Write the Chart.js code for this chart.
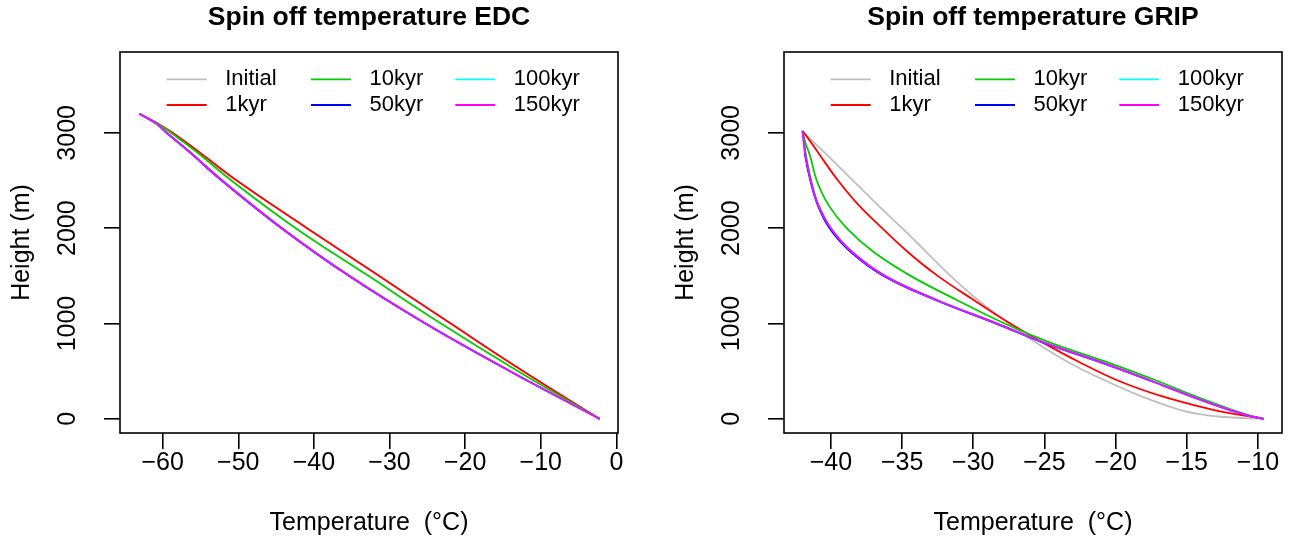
<!DOCTYPE html>
<html>
<head>
<meta charset="utf-8">
<script src="https://cdn.jsdelivr.net/npm/chart.js@4.4.0/dist/chart.umd.min.js"></script>
<style>
html, body { margin: 0; padding: 0; background: #fff; }
#wrap { position: relative; width: 1305px; height: 547px; }
.panel { position: absolute; top: 0; height: 547px; }
</style>
</head>
<body>
<div id="wrap">
  <div class="panel" style="left:0;width:652px"><canvas id="edc" width="652" height="547"></canvas></div>
  <div class="panel" style="left:664px;width:641px"><canvas id="grip" width="641" height="547"></canvas></div>
</div>
<script>
// series labels and colours (R: grey, red, green3, blue, cyan, magenta)
var seriesNames = ['Initial', '1kyr', '10kyr', '50kyr', '100kyr', '150kyr'];
var seriesColors = ['#BEBEBE', '#FF0000', '#00CD00', '#0000FF', '#00FFFF', '#FF00FF'];

// EDC: height (m) and temperature (degC)
var edcHeight  = [3200, 3100, 3000, 2800, 2500, 2000, 1500, 1000, 500, 0];
var edcInitial = [-63.1, -60.9, -58.7, -55.2, -50.2, -40.9, -31.4, -21.9, -12.3, -2.2];
var edc1kyr    = [-63.1, -60.7, -58.7, -55.2, -50.2, -40.9, -31.4, -21.9, -12.3, -2.2];
var edc10kyr   = [-63.1, -60.7, -58.9, -55.5, -50.9, -42.4, -32.8, -23.2, -13.0, -2.2];
var edc50kyr   = [-63.1, -60.9, -59.5, -56.5, -52.2, -44.3, -35.4, -25.3, -14.1, -2.2];
var edc100kyr  = [-63.1, -60.9, -59.4, -56.4, -52.1, -44.2, -35.3, -25.2, -14.0, -2.2];
var edc150kyr  = [-63.1, -60.9, -59.4, -56.4, -52.1, -44.2, -35.3, -25.2, -14.0, -2.2];

// GRIP: height (m) and temperature (degC)
var gripHeight  = [3020, 2900, 2750, 2500, 2250, 2000, 1750, 1500, 1250, 1000, 800, 600, 400, 250, 100, 50, 20, 0];
var gripInitial = [-42.0, -41.2, -40.15, -38.45, -36.75, -35.0, -33.3, -31.6, -29.7, -27.5, -25.6, -23.4, -20.7, -18.4, -15.6, -14.1, -12.4, -9.6];
var grip1kyr    = [-42.0, -41.4, -40.7, -39.5, -38.1, -36.4, -34.6, -32.5, -30.0, -27.4, -25.1, -22.6, -19.8, -17.0, -13.3, -11.6, -10.4, -9.6];
var grip10kyr   = [-42.0, -41.8, -41.45, -41.0, -40.2, -38.9, -37.0, -34.4, -31.2, -27.8, -24.6, -20.7, -17.1, -14.6, -11.9, -10.9, -10.2, -9.6];
var grip50kyr   = [-42.0, -41.9, -41.8, -41.45, -40.95, -40.1, -38.6, -36.3, -32.7, -28.4, -25.1, -21.2, -17.55, -14.95, -12.15, -11.05, -10.3, -9.6];
var grip100kyr  = [-42.0, -41.9, -41.75, -41.4, -40.9, -40.0, -38.5, -36.2, -32.6, -28.3, -25.0, -21.1, -17.5, -14.9, -12.1, -11.0, -10.3, -9.6];
var grip150kyr  = [-42.0, -41.9, -41.75, -41.4, -40.9, -40.0, -38.5, -36.2, -32.6, -28.3, -25.0, -21.1, -17.5, -14.9, -12.1, -11.0, -10.3, -9.6];

// tick labels
var edcTempTicks  = [-60, -50, -40, -30, -20, -10, 0];
var gripTempTicks = [-40, -35, -30, -25, -20, -15, -10];
var heightTicks   = [0, 1000, 2000, 3000];

Chart.defaults.font.family = '"Liberation Sans", Arial, Helvetica, sans-serif';
Chart.defaults.color = '#000';

function makeSeries(heights, temps, i) {
    var pts = [];
    for (var k = 0; k < heights.length; k++) {
        pts.push({x: temps[k], y: heights[k]});
    }
    return {
        label: seriesNames[i],
        data: pts,
        borderColor: seriesColors[i],
        backgroundColor: seriesColors[i],
        borderWidth: 1.8,
        pointRadius: 0,
        showLine: true,
        fill: false,
        tension: 0.4,
        order: 6 - i   // last series drawn on top, like R
    };
}

function minusLabel(v) {
    return v < 0 ? '\u2212' + Math.abs(v) : String(v);
}

// box around the plot region
var frame = {
    id: 'frame',
    afterDraw: function(chart) {
        var a = chart.chartArea, ctx = chart.ctx;
        ctx.save();
        ctx.strokeStyle = '#000';
        ctx.lineWidth = 1.6;
        ctx.strokeRect(a.left, a.top, a.right - a.left, a.bottom - a.top);
        ctx.restore();
    }
};

// R style legend: 3 columns, 2 rows, no box
var rLegend = {
    id: 'rLegend',
    afterDraw: function(chart) {
        var a = chart.chartArea, ctx = chart.ctx;
        var ds = chart.data.datasets;
        ctx.save();
        ctx.font = '22px "Liberation Sans", Arial, sans-serif';
        ctx.textBaseline = 'middle';
        ctx.textAlign = 'left';
        for (var i = 0; i < ds.length; i++) {
            var col = Math.floor(i / 2), row = i % 2;
            var x0 = a.left + 46.7 + col * 144.3;
            var y0 = a.top + 27.3 + row * 25.7;
            ctx.strokeStyle = ds[i].borderColor;
            ctx.lineWidth = 1.8;
            ctx.beginPath();
            ctx.moveTo(x0, y0);
            ctx.lineTo(x0 + 40, y0);
            ctx.stroke();
            ctx.fillStyle = '#000';
            ctx.fillText(ds[i].label, x0 + 58.5, y0);
        }
        ctx.restore();
    }
};

function criaGrafico(id, titulo, heights, series, tempTicks, xmin, xmax, padRight) {
    var datasets = [];
    for (var i = 0; i < series.length; i++) {
        datasets.push(makeSeries(heights, series[i], i));
    }
    return new Chart(id, {
        type: 'scatter',
        data: { datasets: datasets },
        options: {
            responsive: false,
            animation: false,
            layout: { padding: { left: 0, right: padRight, top: 0, bottom: 0 } },
            plugins: {
                legend: { display: false },
                tooltip: { enabled: false },
                title: {
                    display: true,
                    text: titulo,
                    fullSize: false,
                    font: { size: 26.5, weight: 'bold' },
                    padding: { top: 2, bottom: 18.2 }
                }
            },
            scales: {
                x: {
                    type: 'linear',
                    position: 'bottom',
                    min: xmin,
                    max: xmax,
                    afterBuildTicks: function(s) {
                        s.ticks = tempTicks.map(function(v) { return {value: v}; });
                    },
                    afterFit: function(s) { s.height = 114; },
                    border: { display: false },
                    grid: { display: true, drawOnChartArea: false, drawTicks: true, tickLength: 16, color: '#000', lineWidth: 1.6 },
                    ticks: {
                        autoSkip: false,
                        maxRotation: 0,
                        padding: -1,
                        font: { size: 25 },
                        callback: function(v) { return minusLabel(v); }
                    },
                    title: {
                        display: true,
                        text: 'Temperature  (\u00B0C)',
                        font: { size: 25 },
                        padding: { top: 0, bottom: 9 }
                    }
                },
                y: {
                    type: 'linear',
                    position: 'left',
                    min: -148,
                    max: 3848,
                    afterBuildTicks: function(s) {
                        s.ticks = heightTicks.map(function(v) { return {value: v}; });
                    },
                    afterFit: function(s) { s.width = 120; },
                    border: { display: false },
                    grid: { display: true, drawOnChartArea: false, drawTicks: true, tickLength: 16, color: '#000', lineWidth: 1.6 },
                    ticks: {
                        autoSkip: false,
                        minRotation: 90,
                        maxRotation: 90,
                        crossAlign: 'center',
                        padding: 8,
                        font: { size: 25 },
                        callback: function(v) { return String(v); }
                    },
                    title: {
                        display: true,
                        text: 'Height (m)',
                        font: { size: 25 },
                        padding: { top: 7, bottom: 0 }
                    }
                }
            }
        },
        plugins: [frame, rLegend]
    });
}

criaGrafico('edc', 'Spin off temperature EDC', edcHeight,
    [edcInitial, edc1kyr, edc10kyr, edc50kyr, edc100kyr, edc150kyr],
    edcTempTicks, -65.65, 0.22, 34);

criaGrafico('grip', 'Spin off temperature GRIP', gripHeight,
    [gripInitial, grip1kyr, grip10kyr, grip50kyr, grip100kyr, grip150kyr],
    gripTempTicks, -43.3, -8.31, 23);
</script>
</body>
</html>
